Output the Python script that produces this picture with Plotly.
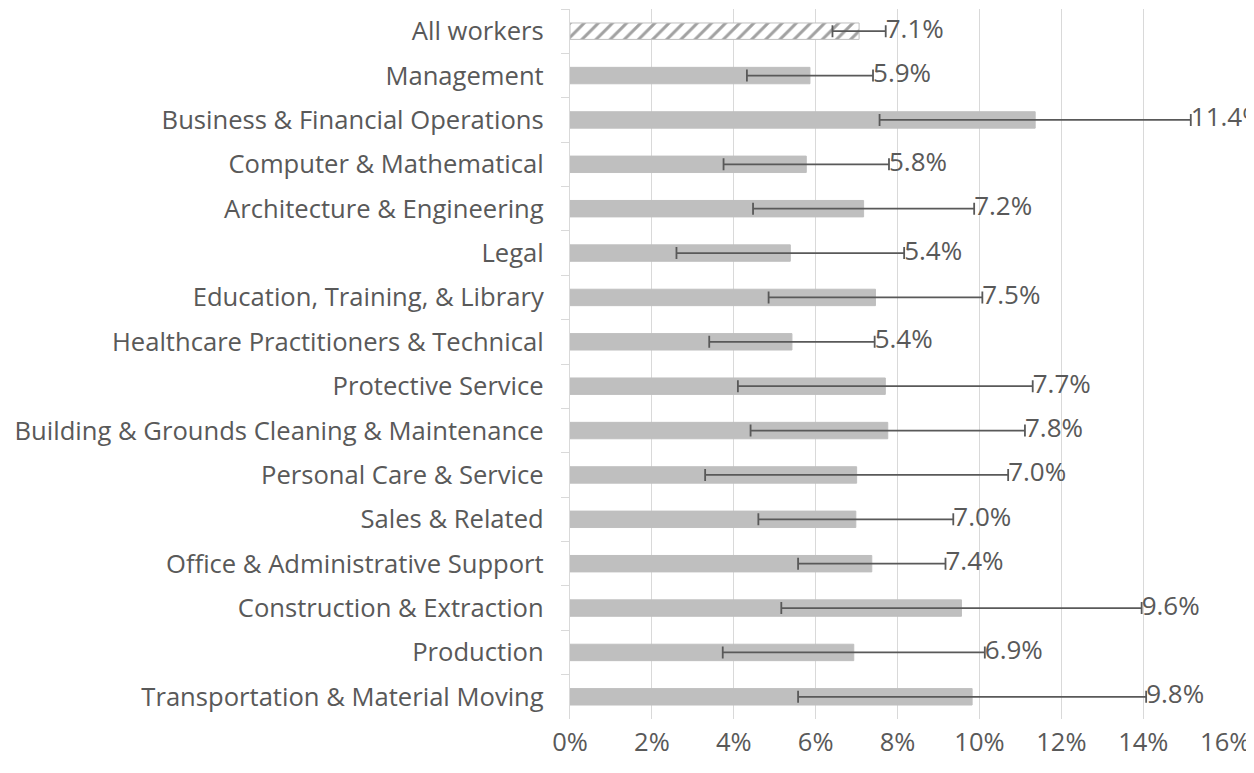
import plotly.graph_objs as go

occupations = [
    'All workers',
    'Management',
    'Business & Financial Operations',
    'Computer & Mathematical',
    'Architecture & Engineering',
    'Legal',
    'Education, Training, & Library',
    'Healthcare Practitioners & Technical',
    'Protective Service',
    'Building & Grounds Cleaning & Maintenance',
    'Personal Care & Service',
    'Sales & Related',
    'Office & Administrative Support',
    'Construction & Extraction',
    'Production',
    'Transportation & Material Moving',
]

# share of workers, percent
rates = [7.06, 5.86, 11.36, 5.77, 7.17, 5.38, 7.46, 5.42,
         7.70, 7.76, 7.00, 6.98, 7.37, 9.56, 6.93, 9.82]

# +/- margin of error, percentage points
errors = [0.65, 1.54, 3.80, 2.02, 2.70, 2.78, 2.61, 2.02,
          3.60, 3.35, 3.70, 2.38, 1.80, 4.40, 3.20, 4.25]

x_ticks = [0, 2, 4, 6, 8, 10, 12, 14, 16]

text_color = '#595959'
grid_color = '#d9d9d9'
bar_color = '#bfbfbf'
font_family = 'Open Sans'
font_size = 26

# first bar (all workers) is hatched, the rest solid gray
fill_colors = ['white'] + [bar_color] * (len(occupations) - 1)
shapes = ['/'] + [''] * (len(occupations) - 1)

bars = go.Bar(
    x=rates,
    y=occupations,
    orientation='h',
    marker=dict(
        color=fill_colors,
        line=dict(color=bar_color, width=1),
        pattern=dict(shape=shapes, fgcolor='#a6a6a6', bgcolor='white',
                     size=10, solidity=0.3, fillmode='overlay'),
    ),
    error_x=dict(type='data', array=errors, visible=True,
                 color=text_color, thickness=1.8, width=6),
    hoverinfo='x+y',
    showlegend=False,
)

# value labels sit just past the right whisker
label_x = [r + e for r, e in zip(rates, errors)]
labels = go.Scatter(
    x=label_x,
    y=occupations,
    mode='text',
    text=['%.1f%%' % r for r in rates],
    textposition='middle right',
    textfont=dict(family=font_family, size=font_size, color=text_color),
    cliponaxis=False,
    hoverinfo='skip',
    showlegend=False,
)

# the page body adds an 8px offset, so margins are trimmed to suit
layout = go.Layout(
    width=1254,
    height=773,
    margin=dict(l=562, r=36, t=1, b=62),
    paper_bgcolor='white',
    plot_bgcolor='white',
    bargap=0.63,
    font=dict(family=font_family, size=font_size, color=text_color),
    xaxis=dict(
        range=[0, 16.02],
        tickvals=x_ticks,
        ticktext=['%d%%' % t for t in x_ticks],
        showgrid=True,
        gridcolor=grid_color,
        gridwidth=1.3,
        zeroline=False,
        showline=False,
        ticks='',
        ticklabelstandoff=5,
        automargin=False,
        tickfont=dict(family=font_family, size=25.5, color=text_color),
    ),
    yaxis=dict(
        categoryorder='array',
        categoryarray=occupations,
        range=[len(occupations) - 0.5, -0.5],
        showgrid=False,
        showline=True,
        linecolor=grid_color,
        linewidth=1.3,
        ticks='outside',
        tickson='boundaries',
        ticklen=8,
        tickcolor=grid_color,
        tickwidth=1.3,
        ticklabelstandoff=20,
        automargin=False,
        tickfont=dict(family=font_family, size=25.6, color=text_color),
    ),
)

fig = go.Figure(data=[bars, labels], layout=layout)
fig.write_html('out.html')
